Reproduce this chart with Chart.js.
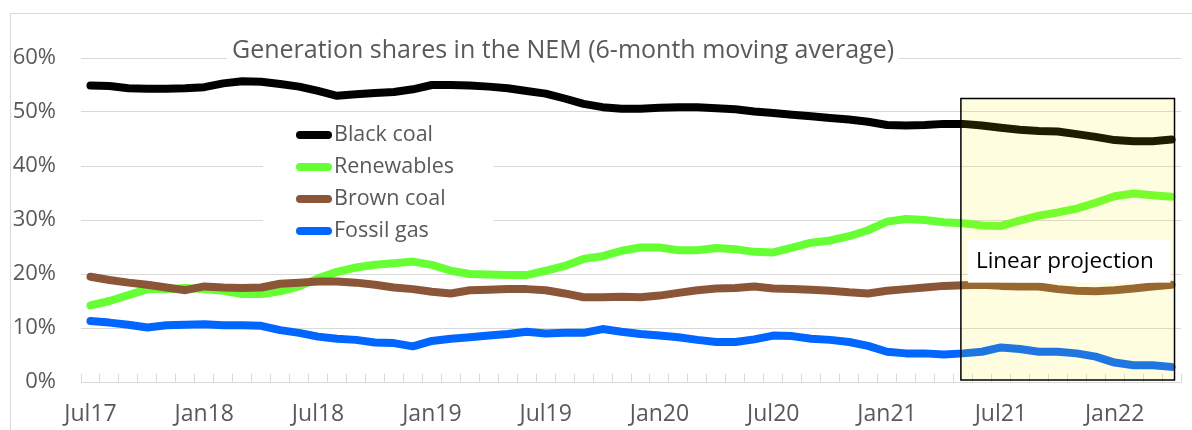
<!DOCTYPE html>
<html>
<head>
<meta charset="utf-8">
<script src="https://cdn.jsdelivr.net/npm/chart.js@4.4.0/dist/chart.umd.min.js"></script>
<style>
    body { margin: 0; background: #ffffff; overflow: hidden; }
    #frame {
        position: absolute; left: 10px; top: 13px;
        width: 1300px; height: 600px;
        border-left: 1px solid #d9d9d9; border-top: 1px solid #d9d9d9;
    }
    #chart { position: absolute; left: 0; top: 0; }
</style>
</head>
<body>
<div id="frame"></div>
<canvas id="chart" width="1192" height="430"></canvas>
<script>
const months = [
    'Jul17', 'Aug17', 'Sep17', 'Oct17', 'Nov17', 'Dec17',
    'Jan18', 'Feb18', 'Mar18', 'Apr18', 'May18', 'Jun18', 'Jul18', 'Aug18', 'Sep18', 'Oct18', 'Nov18', 'Dec18',
    'Jan19', 'Feb19', 'Mar19', 'Apr19', 'May19', 'Jun19', 'Jul19', 'Aug19', 'Sep19', 'Oct19', 'Nov19', 'Dec19',
    'Jan20', 'Feb20', 'Mar20', 'Apr20', 'May20', 'Jun20', 'Jul20', 'Aug20', 'Sep20', 'Oct20', 'Nov20', 'Dec20',
    'Jan21', 'Feb21', 'Mar21', 'Apr21', 'May21', 'Jun21', 'Jul21', 'Aug21', 'Sep21', 'Oct21', 'Nov21', 'Dec21',
    'Jan22', 'Feb22', 'Mar22', 'Apr22'
];
const shownMonths = ['Jul17', 'Jan18', 'Jul18', 'Jan19', 'Jul19', 'Jan20', 'Jul20', 'Jan21', 'Jul21', 'Jan22'];

const blackCoal = [54.9, 54.8, 54.4, 54.3, 54.3, 54.4, 54.6, 55.3, 55.7, 55.6, 55.2, 54.7, 53.9, 53.0, 53.3, 53.5, 53.7, 54.2, 55.0, 55.0,
    54.9, 54.7, 54.4, 53.9, 53.4, 52.5, 51.5, 50.9, 50.6, 50.6, 50.8, 50.9, 50.9, 50.7, 50.5, 50.1, 49.8, 49.5, 49.2, 48.9,
    48.6, 48.2, 47.6, 47.5, 47.6, 47.8, 47.8, 47.5, 47.1, 46.7, 46.5, 46.4, 45.9, 45.4, 44.8, 44.6, 44.6, 44.9];
const renewables = [14.2, 15.0, 16.1, 17.2, 17.2, 17.4, 17.2, 16.9, 16.3, 16.3, 16.8, 17.7, 19.2, 20.4, 21.2, 21.7, 22.0, 22.3, 21.7, 20.6,
    20.0, 19.9, 19.8, 19.8, 20.6, 21.5, 22.8, 23.3, 24.3, 24.9, 24.9, 24.4, 24.4, 24.8, 24.6, 24.1, 24.0, 24.9, 25.8, 26.2,
    27.0, 28.1, 29.7, 30.2, 30.0, 29.6, 29.4, 29.0, 28.9, 29.9, 30.8, 31.4, 32.1, 33.2, 34.4, 34.9, 34.6, 34.3];
const brownCoal = [19.5, 18.9, 18.4, 18.0, 17.5, 17.0, 17.7, 17.5, 17.4, 17.5, 18.2, 18.4, 18.6, 18.6, 18.4, 18.0, 17.5, 17.2, 16.7, 16.4,
    17.0, 17.1, 17.2, 17.2, 17.0, 16.4, 15.7, 15.7, 15.8, 15.7, 16.0, 16.5, 17.0, 17.3, 17.4, 17.7, 17.3, 17.2, 17.1, 16.9,
    16.6, 16.4, 16.9, 17.2, 17.5, 17.8, 17.9, 18.0, 17.8, 17.7, 17.7, 17.2, 16.9, 16.8, 17.0, 17.3, 17.7, 18.0];
const fossilGas = [11.3, 11.0, 10.6, 10.1, 10.5, 10.6, 10.7, 10.5, 10.5, 10.4, 9.6, 9.1, 8.4, 8.0, 7.8, 7.3, 7.2, 6.6, 7.6, 8.0,
    8.3, 8.6, 8.9, 9.3, 9.0, 9.1, 9.1, 9.8, 9.3, 8.9, 8.6, 8.3, 7.8, 7.4, 7.4, 7.9, 8.6, 8.5, 8.0, 7.8,
    7.4, 6.7, 5.6, 5.3, 5.3, 5.1, 5.3, 5.6, 6.4, 6.1, 5.6, 5.6, 5.3, 4.7, 3.6, 3.1, 3.1, 2.8];

const seriesNames = ['Black coal', 'Renewables', 'Brown coal', 'Fossil gas'];
const seriesColors = ['#000000', '#66ff33', '#8b5637', '#0066ff'];

const titleText = 'Generation shares in the NEM (6-month moving average)';
const projectionStart = 'May21';
const projectionTop = 52.5;
const projectionText = 'Linear projection';

const FONT = '"Open Sans", Lato, sans-serif';
const TEXT_GREY = '#595959';

// title, legend and the projection box are drawn on the canvas
const overlayPlugin = {
    id: 'overlay',
    beforeDatasetsDraw(chart) {
        const ctx = chart.ctx;
        const area = chart.chartArea;
        ctx.save();

        // title with white backing over the top gridline
        ctx.font = '25px ' + FONT;
        const tw = ctx.measureText(titleText).width;
        const tx = 232;
        ctx.fillStyle = '#ffffff';
        ctx.fillRect(tx - 5, area.top - 20, tw + 10, 32);
        ctx.fillStyle = TEXT_GREY;
        ctx.textBaseline = 'middle';
        ctx.fillText(titleText, tx, area.top - 7);

        // legend box
        ctx.fillStyle = '#ffffff';
        ctx.fillRect(263, 117, 231, 130);
        ctx.font = '21.5px ' + FONT;
        ctx.lineCap = 'round';
        ctx.lineWidth = 8;
        chart.data.datasets.forEach((ds, i) => {
            const yy = 135 + i * 32;
            ctx.strokeStyle = ds.borderColor;
            ctx.beginPath();
            ctx.moveTo(300, yy);
            ctx.lineTo(328, yy);
            ctx.stroke();
            ctx.fillStyle = TEXT_GREY;
            ctx.fillText(ds.label, 334, yy);
        });
        ctx.restore();
    },
    afterDatasetsDraw(chart) {
        const ctx = chart.ctx;
        const xs = chart.scales.x;
        const ys = chart.scales.y;
        const area = chart.chartArea;
        const left = xs.getPixelForValue(months.indexOf(projectionStart)) - 2;
        const right = xs.getPixelForValue(months.length - 1) + 3;
        const top = ys.getPixelForValue(projectionTop);
        const bottom = area.bottom - 2;
        ctx.save();
        ctx.fillStyle = 'rgba(255, 240, 0, 0.12)';
        ctx.fillRect(left, top, right - left, bottom - top);
        ctx.strokeStyle = '#000000';
        ctx.lineWidth = 1.5;
        ctx.strokeRect(left, top, right - left, bottom - top);

        const lt = ys.getPixelForValue(26.3);
        const lb = ys.getPixelForValue(18.4);
        ctx.fillStyle = '#ffffff';
        ctx.fillRect(left + 7, lt, right - left - 11, lb - lt);
        ctx.fillStyle = '#000000';
        ctx.font = '22.5px ' + FONT;
        ctx.textBaseline = 'middle';
        ctx.fillText(projectionText, left + 15, (lt + lb) / 2);
        ctx.restore();
    }
};

const seriesData = [blackCoal, renewables, brownCoal, fossilGas];

new Chart(document.getElementById('chart'), {
    type: 'line',
    data: {
        labels: months,
        datasets: seriesData.map((values, i) => ({
            label: seriesNames[i],
            data: values,
            borderColor: seriesColors[i],
            backgroundColor: seriesColors[i],
            borderWidth: 8,
            borderCapStyle: 'round',
            borderJoinStyle: 'round',
            pointRadius: 0,
            tension: 0,
            order: seriesData.length - i
        }))
    },
    options: {
        responsive: false,
        animation: false,
        layout: { padding: { top: 58, right: 11, bottom: 0, left: 0 } },
        plugins: {
            legend: { display: false },
            title: { display: false },
            tooltip: { enabled: false }
        },
        scales: {
            x: {
                offset: true,
                grid: {
                    offset: true,
                    drawOnChartArea: false,
                    drawTicks: true,
                    tickLength: -8,
                    color: '#d9d9d9'
                },
                border: { display: true, color: '#d9d9d9', width: 1 },
                ticks: {
                    autoSkip: false,
                    maxRotation: 0,
                    padding: 27,
                    color: TEXT_GREY,
                    font: { family: FONT, size: 23 },
                    callback: function(value) {
                        const lab = months[value];
                        return shownMonths.includes(lab) ? lab : '';
                    }
                },
                afterFit: function(scale) {
                    scale.height = 48;
                    scale.paddingRight = 0;
                }
            },
            y: {
                min: 0,
                max: 60,
                ticks: {
                    stepSize: 10,
                    padding: 25,
                    color: TEXT_GREY,
                    font: { family: FONT, size: 22 },
                    callback: v => v + '%'
                },
                grid: { color: '#d9d9d9', drawTicks: false },
                border: { display: false },
                afterFit: function(scale) { scale.width = 81; }
            }
        }
    },
    plugins: [overlayPlugin]
});
</script>
</body>
</html>
